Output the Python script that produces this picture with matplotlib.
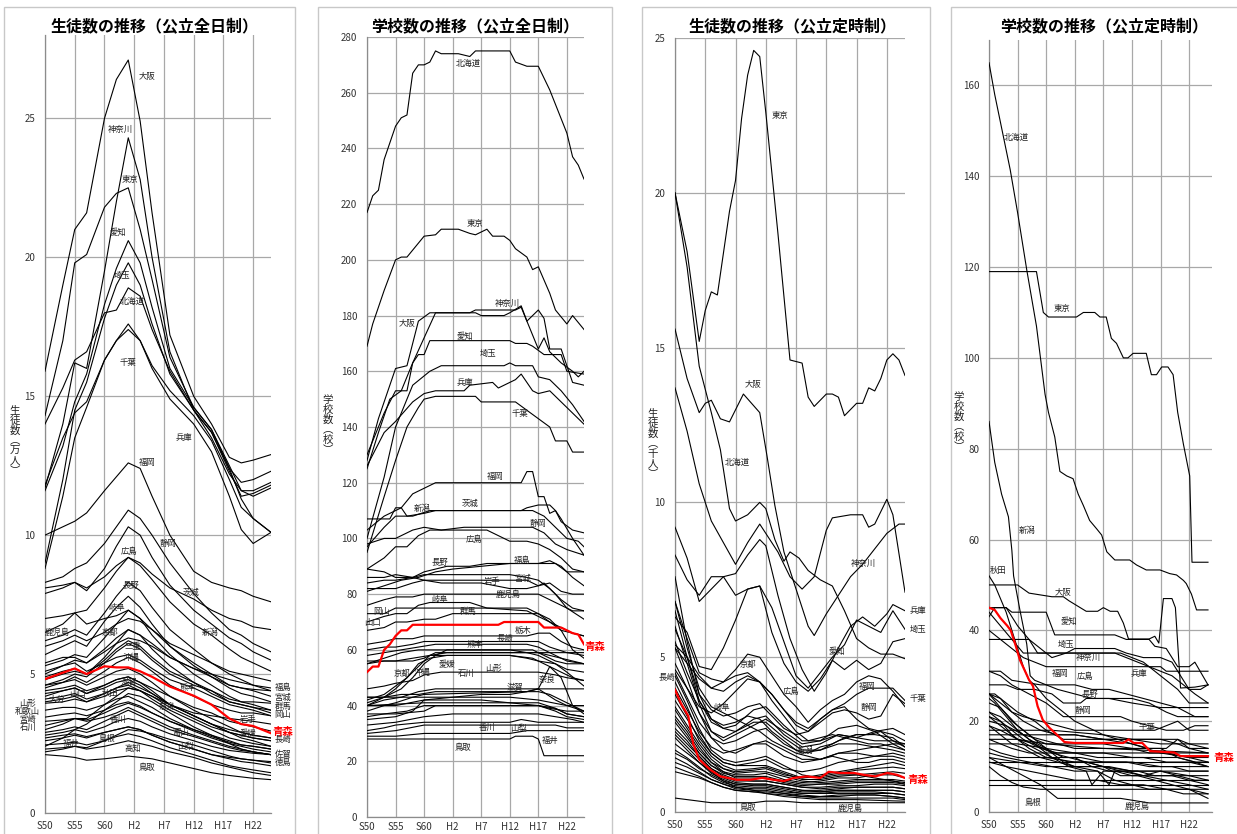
import matplotlib
matplotlib.use("Agg")
import matplotlib.pyplot as plt
from matplotlib.patches import Rectangle

plt.rcParams['font.family'] = ['Noto Sans CJK JP', 'DejaVu Sans']

W, H = 1237, 834

XTICK_YEARS = [1975, 1980, 1985, 1990, 1995, 2000, 2005, 2010]
XTICK_LABELS = ['S50', 'S55', 'S60', 'H2', 'H7', 'H12', 'H17', 'H22']

TITLES = ['生徒数の推移（公立全日制）', '学校数の推移（公立全日制）',
          '生徒数の推移（公立定時制）', '学校数の推移（公立定時制）']
YLABELS = ['生徒数︵万人︶', '学校数︵校︶', '生徒数︵千人︶', '学校数︵校︶']
RED_NAME = '青森'

# ---------------- Panel 1: 生徒数 全日制 (万人) ----------------
P1_YEARS = [1975, 1978, 1980, 1982, 1985, 1987, 1989, 1991, 1993, 1996, 2000, 2003, 2006, 2008, 2010, 2013]
P1_SERIES = {
    '大阪':   [15.9, 19.0, 21.0, 21.6, 25.0, 26.4, 27.1, 24.9, 21.6, 17.2, 15.0, 14.0, 12.8, 12.6, 12.7, 12.9],
    '東京':   [14.3, 17.0, 19.8, 20.1, 21.8, 22.3, 22.5, 21.0, 19.2, 16.4, 14.6, 13.8, 12.4, 11.9, 12.0, 12.3],
    '神奈川': [11.7, 14.0, 16.2, 16.0, 19.5, 22.0, 24.3, 22.8, 20.0, 16.6, 14.5, 13.5, 12.2, 11.6, 11.6, 11.9],
    '愛知':   [11.6, 13.2, 14.8, 15.8, 18.3, 19.6, 20.6, 19.8, 18.2, 16.0, 14.6, 13.8, 12.5, 11.6, 11.4, 11.7],
    '埼玉':   [9.0, 12.0, 14.5, 15.5, 17.8, 19.0, 19.8, 19.0, 17.6, 15.8, 14.5, 13.7, 12.3, 11.4, 11.5, 11.8],
    '北海道': [14.0, 15.3, 16.3, 16.6, 18.0, 18.1, 18.9, 18.6, 17.4, 15.9, 14.5, 13.7, 12.4, 11.3, 10.6, 10.1],
    '千葉':   [8.8, 11.4, 13.5, 14.6, 16.3, 17.0, 17.6, 17.0, 16.0, 14.9, 14.0, 13.0, 11.4, 10.2, 9.7, 10.1],
    '兵庫':   [11.8, 13.5, 14.4, 14.8, 16.3, 17.0, 17.4, 17.0, 16.1, 15.2, 14.3, 13.4, 12.0, 11.0, 10.6, 10.1],
    '福岡':   [10.0, 10.3, 10.5, 10.8, 11.6, 12.1, 12.6, 12.4, 11.4, 10.0, 8.7, 8.3, 8.1, 8.0, 7.8, 7.6],
    '静岡':   [8.3, 8.5, 8.8, 9.0, 9.7, 10.3, 10.9, 10.6, 10.0, 9.0, 7.9, 7.2, 6.6, 6.4, 6.1, 5.8],
    '広島':   [7.9, 8.1, 8.3, 8.0, 8.8, 9.6, 10.3, 10.0, 9.2, 8.2, 7.3, 6.8, 6.3, 6.1, 5.8, 5.5],
    '茨城':   [6.5, 6.8, 7.2, 7.3, 8.1, 8.7, 9.2, 9.0, 8.6, 8.1, 7.7, 7.3, 7.0, 6.9, 6.7, 6.6],
    '長野':   [6.2, 6.4, 6.6, 6.4, 7.2, 7.8, 8.3, 8.0, 7.4, 6.6, 5.9, 5.4, 5.0, 4.8, 4.6, 4.4],
    '新潟':   [8.1, 8.2, 8.3, 8.1, 8.5, 8.9, 9.2, 8.9, 8.4, 7.6, 6.8, 6.4, 5.9, 5.6, 5.4, 5.1],
    '岐阜':   [5.7, 6.0, 6.2, 6.0, 6.9, 7.4, 7.8, 7.4, 6.8, 6.0, 5.3, 4.9, 4.5, 4.3, 4.2, 4.0],
    '鹿児島': [7.0, 7.1, 7.2, 6.8, 7.0, 7.1, 7.3, 7.0, 6.6, 6.0, 5.4, 5.0, 4.6, 4.5, 4.4, 4.2],
    '京都':   [5.3, 5.5, 5.7, 5.6, 6.3, 6.8, 7.3, 7.0, 6.4, 5.7, 5.0, 4.6, 4.2, 4.0, 3.9, 3.7],
    '三重':   [4.9, 5.1, 5.2, 5.0, 5.6, 6.1, 6.6, 6.4, 5.9, 5.3, 4.7, 4.4, 4.0, 3.9, 3.8, 3.6],
    '沖縄':   [5.4, 5.6, 5.6, 5.4, 5.8, 6.1, 6.3, 6.2, 6.0, 5.6, 5.2, 5.0, 4.8, 4.7, 4.6, 4.5],
    '福島':   [6.0, 6.2, 6.4, 6.2, 6.5, 6.8, 7.0, 6.9, 6.6, 6.1, 5.7, 5.4, 5.1, 5.0, 4.9, 4.75],
    '宮城':   [5.0, 5.3, 5.5, 5.4, 5.9, 6.3, 6.6, 6.4, 6.1, 5.6, 5.2, 4.9, 4.6, 4.5, 4.45, 4.4],
    '群馬':   [4.6, 4.8, 5.0, 4.9, 5.4, 5.8, 6.1, 5.9, 5.5, 5.0, 4.6, 4.4, 4.1, 4.0, 4.0, 3.95],
    '岡山':   [4.5, 4.7, 4.9, 4.7, 5.1, 5.4, 5.6, 5.4, 5.1, 4.6, 4.2, 3.9, 3.7, 3.6, 3.6, 3.5],
    '熊本':   [5.1, 5.3, 5.4, 5.1, 5.4, 5.6, 5.7, 5.5, 5.2, 4.8, 4.5, 4.2, 3.9, 3.8, 3.7, 3.5],
    '滋賀':   [3.0, 3.2, 3.4, 3.4, 3.9, 4.2, 4.5, 4.4, 4.2, 3.9, 3.6, 3.5, 3.4, 3.35, 3.3, 3.2],
    '山口':   [4.2, 4.4, 4.5, 4.3, 4.5, 4.7, 4.8, 4.6, 4.3, 3.9, 3.5, 3.2, 2.9, 2.8, 2.7, 2.6],
    '秋田':   [4.4, 4.5, 4.6, 4.4, 4.6, 4.8, 4.9, 4.7, 4.4, 3.9, 3.5, 3.2, 2.9, 2.7, 2.6, 2.4],
    '大分':   [4.1, 4.2, 4.3, 4.1, 4.3, 4.5, 4.6, 4.4, 4.2, 3.8, 3.4, 3.1, 2.9, 2.8, 2.7, 2.6],
    '山形':   [3.95, 4.0, 4.1, 4.0, 4.2, 4.4, 4.5, 4.4, 4.1, 3.7, 3.3, 3.0, 2.7, 2.6, 2.5, 2.4],
    '和歌山': [3.7, 3.8, 3.8, 3.7, 3.9, 4.1, 4.2, 4.0, 3.8, 3.4, 3.0, 2.75, 2.55, 2.45, 2.4, 2.3],
    '宮崎':   [3.45, 3.55, 3.6, 3.5, 3.7, 3.9, 4.0, 3.85, 3.6, 3.3, 2.95, 2.7, 2.5, 2.4, 2.3, 2.2],
    '石川':   [3.15, 3.3, 3.4, 3.35, 3.6, 3.8, 3.95, 3.8, 3.6, 3.3, 3.0, 2.8, 2.6, 2.45, 2.4, 2.3],
    '奈良':   [2.4, 2.7, 3.0, 3.2, 3.7, 4.0, 4.3, 4.2, 4.0, 3.6, 3.1, 2.8, 2.5, 2.3, 2.2, 2.1],
    '岩手':   [4.3, 4.4, 4.5, 4.3, 4.6, 4.8, 4.9, 4.7, 4.5, 4.2, 3.8, 3.6, 3.3, 3.2, 3.1, 2.95],
    '香川':   [2.9, 3.0, 3.1, 3.0, 3.3, 3.5, 3.7, 3.5, 3.3, 3.0, 2.75, 2.55, 2.35, 2.25, 2.2, 2.1],
    '富山':   [3.3, 3.35, 3.4, 3.3, 3.45, 3.6, 3.8, 3.6, 3.4, 3.1, 2.8, 2.6, 2.4, 2.3, 2.2, 2.1],
    '愛媛':   [4.0, 4.1, 4.2, 4.0, 4.3, 4.5, 4.7, 4.5, 4.3, 3.9, 3.5, 3.2, 3.0, 2.9, 2.8, 2.7],
    '長崎':   [4.6, 4.7, 4.8, 4.6, 4.9, 5.1, 5.2, 5.0, 4.7, 4.2, 3.7, 3.4, 3.1, 2.9, 2.8, 2.7],
    '佐賀':   [2.8, 2.9, 3.0, 2.9, 3.1, 3.3, 3.4, 3.3, 3.1, 2.85, 2.6, 2.4, 2.25, 2.2, 2.15, 2.1],
    '徳島':   [2.6, 2.7, 2.8, 2.7, 2.9, 3.0, 3.1, 3.0, 2.8, 2.55, 2.3, 2.1, 2.0, 1.95, 1.9, 1.85],
    '福井':   [2.7, 2.8, 2.85, 2.75, 2.9, 3.0, 3.1, 3.0, 2.8, 2.55, 2.3, 2.1, 1.95, 1.85, 1.8, 1.7],
    '島根':   [2.45, 2.5, 2.55, 2.45, 2.6, 2.75, 2.85, 2.75, 2.6, 2.35, 2.1, 1.9, 1.7, 1.62, 1.55, 1.45],
    '山梨':   [2.2, 2.3, 2.4, 2.35, 2.6, 2.8, 3.0, 2.95, 2.85, 2.65, 2.45, 2.25, 2.05, 1.95, 1.9, 1.8],
    '高知':   [2.3, 2.35, 2.4, 2.3, 2.4, 2.5, 2.6, 2.5, 2.4, 2.2, 2.0, 1.8, 1.65, 1.55, 1.45, 1.35],
    '鳥取':   [2.1, 2.05, 2.0, 1.9, 1.95, 2.0, 2.05, 2.0, 1.95, 1.8, 1.6, 1.45, 1.35, 1.3, 1.25, 1.2],
    '栃木':   [4.8, 5.0, 5.1, 5.0, 5.5, 5.9, 6.2, 6.0, 5.6, 5.1, 4.7, 4.3, 4.0, 3.9, 3.8, 3.7],
    '青森':   [4.82, 5.05, 5.2, 5.0, 5.28, 5.24, 5.24, 5.1, 4.9, 4.55, 4.22, 3.9, 3.4, 3.2, 3.13, 2.87],
}
P1_LABELS = [
    ('大阪', 1992.2, 26.5), ('神奈川', 1987.6, 24.6), ('東京', 1989.3, 22.8), ('愛知', 1987.3, 20.9),
    ('埼玉', 1988.0, 19.35), ('北海道', 1989.7, 18.4), ('千葉', 1989.0, 16.2), ('兵庫', 1998.3, 13.5),
    ('福岡', 1992.2, 12.6), ('静岡', 1995.6, 9.7), ('広島', 1989.2, 9.4), ('長野', 1989.5, 8.2),
    ('茨城', 1999.6, 7.95), ('岐阜', 1987.1, 7.4), ('鹿児島', 1977.0, 6.5), ('京都', 1986.0, 6.5),
    ('新潟', 2002.8, 6.5), ('三重', 1989.8, 6.0), ('沖縄', 1989.5, 5.6), ('滋賀', 1989.2, 4.7),
    ('熊本', 1999.0, 4.5), ('山口', 1980.4, 4.3), ('秋田', 1986.0, 4.3), ('大分', 1977.0, 4.1),
    ('山形', 1972.1, 3.96), ('和歌山', 1972.1, 3.67), ('宮崎', 1972.1, 3.38), ('石川', 1972.1, 3.09),
    ('奈良', 1995.6, 3.85), ('岩手', 2009.1, 3.35), ('香川', 1987.3, 3.38), ('富山', 1997.8, 2.9),
    ('愛媛', 2009.1, 2.88), ('福井', 1979.4, 2.5), ('島根', 1985.3, 2.7), ('山梨', 1998.6, 2.4),
    ('高知', 1989.8, 2.34), ('鳥取', 1992.2, 1.62),
    ('福島', 2015.0, 4.5), ('宮城', 2015.0, 4.17), ('群馬', 2015.0, 3.85), ('岡山', 2015.0, 3.56),
    ('長崎', 2015.0, 2.63), ('佐賀', 2015.0, 2.12), ('徳島', 2015.0, 1.83),
]
P1_RED_LABEL = (2015.0, 2.91)

# ---------------- Panel 2: 学校数 全日制 (校) ----------------
P2_SERIES = {
    '北海道': [(1975, 217), (1976, 223), (1977, 225), (1978, 236), (1980, 248), (1981, 251), (1982, 252), (1983, 267), (1984, 270), (1985, 270), (1986, 271), (1987, 275), (1988, 274), (1991, 274), (1993, 273), (1994, 275), (2000, 275), (2001, 271), (2003, 269.5), (2005, 269.5), (2007, 261), (2010, 245.5), (2011, 237), (2012, 234), (2013, 229)],
    '東京': [(1975, 169), (1976, 177), (1978, 189), (1980, 200), (1981, 201), (1982, 201), (1984, 206), (1985, 208.5), (1987, 209), (1988, 211), (1991, 211), (1993, 209.5), (1994, 209), (1996, 211), (1997, 208.5), (1999, 208.5), (2000, 207), (2001, 204), (2003, 201), (2004, 196.5), (2005, 197.5), (2007, 188), (2008, 182), (2010, 177), (2011, 180), (2013, 175)],
    '大阪': [(1975, 128), (1977, 143), (1979, 155), (1980, 161), (1982, 162), (1983, 170), (1984, 178), (1986, 181), (1994, 181), (1995, 180), (1999, 180), (2000, 181), (2002, 183.5), (2003, 178), (2005, 168), (2006, 172), (2007, 167), (2009, 163), (2011, 160), (2012, 158), (2013, 160)],
    '神奈川': [(1975, 125), (1977, 138), (1979, 150), (1981, 153), (1983, 163), (1985, 172), (1987, 181), (1993, 181), (1994, 182), (2001, 182), (2002, 183), (2003, 178), (2004, 180), (2005, 182), (2006, 179), (2007, 168), (2009, 168), (2011, 156), (2013, 155)],
    '愛知': [(1975, 130), (1978, 145), (1980, 153), (1982, 153), (1983, 163), (1984, 166), (1985, 166), (1986, 171), (2000, 171), (2001, 170), (2003, 170), (2004, 169), (2006, 166), (2009, 166), (2010, 160), (2013, 159)],
    '埼玉': [(1975, 100), (1978, 122), (1980, 140), (1983, 155), (1986, 160), (1988, 162), (1999, 162), (2000, 163), (2001, 162), (2004, 162), (2005, 158), (2007, 157), (2009, 153), (2011, 148), (2013, 142)],
    '兵庫': [(1975, 126), (1978, 138), (1980, 142), (1983, 149), (1985, 152), (1987, 153), (1992, 153), (1993, 155), (1997, 156), (1998, 154), (2001, 157), (2002, 159), (2004, 153), (2005, 152), (2007, 153), (2010, 147), (2013, 141)],
    '千葉': [(1975, 95), (1978, 115), (1980, 128), (1982, 140), (1984, 147), (1985, 150), (1987, 151), (1994, 151), (1995, 149), (2001, 149), (2003, 146), (2005, 143), (2007, 140), (2008, 135), (2010, 135), (2011, 131), (2013, 131)],
    '福岡': [(1975, 103), (1978, 108), (1981, 111), (1983, 116), (1985, 118), (1987, 120), (2002, 120), (2003, 124), (2004, 124), (2005, 115), (2006, 115), (2007, 109), (2008, 110), (2009, 107), (2011, 100), (2013, 94)],
    '茨城': [(1975, 97), (1978, 104), (1980, 108), (1983, 108), (1986, 110), (2002, 110), (2003, 111), (2005, 112), (2007, 112), (2008, 110), (2009, 106), (2011, 103), (2013, 102)],
    '新潟': [(1975, 107), (1979, 107), (1980, 111), (1981, 111), (1982, 108), (1985, 109), (1987, 110), (2004, 110), (2006, 108), (2008, 104), (2010, 100), (2012, 99), (2013, 97)],
    '静岡': [(1975, 98), (1978, 100), (1980, 100), (1983, 103), (1985, 104), (1988, 103), (1992, 104), (2004, 104), (2006, 102), (2008, 98), (2010, 96), (2013, 94)],
    '広島': [(1975, 89), (1978, 93), (1980, 97), (1982, 97), (1984, 101), (1986, 103), (1996, 103), (1998, 101), (2000, 99), (2003, 99), (2005, 98), (2007, 96), (2009, 93), (2011, 89), (2013, 88)],
    '長野': [(1975, 84), (1978, 85), (1980, 85), (1983, 86), (1985, 88), (1987, 89), (1989, 90), (1993, 90), (1996, 91), (2008, 91), (2010, 88), (2013, 88)],
    '福島': [(1975, 81), (1978, 83), (1981, 85), (1984, 86), (1987, 88), (1990, 89), (1995, 90), (2000, 91), (2005, 91), (2007, 92), (2009, 90), (2011, 86), (2013, 83)],
    '岩手': [(1975, 82), (1980, 82), (1983, 84), (1985, 85), (2003, 85), (2005, 83), (2007, 84), (2009, 81), (2011, 80), (2013, 80)],
    '宮城': [(1975, 86), (1978, 86), (1980, 87), (1983, 86), (1985, 87), (2000, 87), (2003, 86), (2005, 85), (2007, 82), (2009, 78), (2011, 75), (2013, 74)],
    '鹿児島': [(1975, 89), (1978, 88), (1980, 86), (1983, 86), (1985, 85), (1988, 84), (1995, 84), (2000, 82), (2003, 82), (2005, 83), (2006, 84), (2008, 80), (2010, 75), (2013, 71)],
    '岐阜': [(1975, 76), (1978, 78), (1980, 79), (1983, 79), (1985, 80), (2005, 80), (2007, 78), (2009, 76), (2011, 74), (2013, 74)],
    '群馬': [(1975, 70), (1978, 72), (1980, 73), (1982, 73), (1984, 76), (1986, 77), (1993, 77), (1996, 75), (2003, 74), (2005, 72), (2007, 70), (2009, 68), (2011, 66), (2013, 65)],
    '岡山': [(1975, 73), (1978, 73), (1980, 75), (2003, 75), (2005, 73), (2007, 70), (2009, 67), (2011, 66), (2013, 65)],
    '山口': [(1975, 67), (1978, 68), (1980, 70), (1982, 70), (1985, 71), (1987, 71), (1990, 73), (2005, 73), (2007, 71), (2009, 67), (2011, 60), (2013, 57)],
    '栃木': [(1975, 62), (1978, 63), (1980, 64), (1983, 64), (1985, 65), (2003, 65), (2005, 66), (2007, 66), (2009, 63), (2011, 61), (2013, 60)],
    '長崎': [(1975, 60), (1978, 61), (1980, 61), (1983, 62), (1985, 63), (2005, 63), (2007, 61), (2010, 59), (2013, 58)],
    '熊本': [(1975, 58), (1978, 59), (1981, 60), (1984, 61), (1987, 62), (2003, 62), (2005, 61), (2008, 58), (2010, 56), (2013, 55)],
    '愛媛': [(1975, 42), (1978, 44), (1980, 47), (1982, 50), (1984, 55), (1986, 57), (1989, 58), (2000, 58), (2003, 57), (2005, 56), (2008, 55), (2010, 53), (2013, 52)],
    '石川': [(1975, 46), (1978, 47), (1980, 48), (1983, 49), (1985, 51), (1988, 52), (2005, 52), (2008, 51), (2010, 50), (2013, 49)],
    '山形': [(1975, 55), (1978, 56), (1980, 56), (1983, 57), (1986, 58), (2000, 58), (2004, 57), (2006, 55), (2009, 52), (2011, 50), (2013, 49)],
    '京都': [(1975, 40), (1977, 42), (1979, 44), (1981, 46), (1983, 50), (1985, 55), (1987, 58), (1989, 60), (2000, 60), (2003, 59), (2005, 58), (2008, 55), (2010, 52), (2013, 47)],
    '沖縄': [(1975, 41), (1978, 43), (1980, 46), (1982, 50), (1984, 54), (1986, 58), (1989, 59), (2013, 59)],
    '滋賀': [(1975, 40), (1980, 40), (1985, 42), (1990, 43), (1995, 44), (2000, 44), (2003, 45), (2005, 46), (2013, 46)],
    '奈良': [(1975, 38), (1978, 40), (1980, 41), (1983, 43), (1985, 44), (2003, 45), (2005, 46), (2007, 54), (2009, 50), (2011, 40), (2013, 37)],
    '香川': [(1975, 30), (1980, 31), (1985, 33), (2008, 33), (2010, 32), (2013, 32)],
    '山梨': [(1975, 31), (1978, 32), (1980, 33), (1985, 34), (2000, 34), (2002, 35), (2005, 34), (2013, 34)],
    '福井': [(1975, 29), (1980, 29), (1985, 30), (2000, 30), (2003, 31), (2013, 31)],
    '鳥取': [(1975, 28), (2000, 28), (2001, 29), (2004, 29), (2005, 28), (2006, 22), (2013, 22)],
    '和歌山': [(1975, 40), (1985, 41), (2005, 41), (2008, 39), (2010, 37), (2013, 36)],
    '徳島': [(1975, 36), (1978, 37), (1982, 38), (1985, 40), (2005, 40), (2008, 38), (2010, 36), (2013, 35)],
    '高知': [(1975, 35), (1980, 36), (1983, 38), (1985, 42), (1995, 42), (2000, 41), (2005, 40), (2008, 39), (2010, 37), (2013, 36)],
    '島根': [(1975, 37), (1980, 37), (1985, 38), (1987, 40), (2005, 40), (2007, 39), (2010, 38), (2013, 38)],
    '佐賀': [(1975, 33), (1980, 34), (1985, 36), (1990, 37), (2005, 37), (2008, 36), (2011, 35), (2013, 34)],
    '宮崎': [(1975, 40), (1978, 42), (1981, 43), (1984, 45), (1987, 46), (2005, 46), (2008, 42), (2010, 40), (2013, 38)],
    '大分': [(1975, 43), (1978, 43), (1981, 44), (1984, 44), (1987, 45), (2005, 45), (2007, 44), (2009, 42), (2011, 40), (2013, 38)],
    '富山': [(1975, 43), (2000, 43), (2005, 42), (2010, 40), (2013, 40)],
    '秋田': [(1975, 55), (1978, 57), (1981, 59), (1984, 60), (2004, 60), (2006, 58), (2008, 56), (2010, 55), (2013, 55)],
    '三重': [(1975, 56), (1983, 56), (1985, 57), (1987, 59), (2005, 59), (2007, 58), (2009, 57), (2013, 55)],
    '青森': [(1975, 52), (1976, 54), (1977, 54), (1978, 60), (1979, 62), (1980, 65), (1981, 67), (1982, 67), (1983, 69), (1998, 69), (1999, 70), (2005, 70), (2006, 68), (2009, 68), (2010, 67), (2011, 66), (2012, 65.5), (2013, 62)],
}
P2_LABELS = [
    ('北海道', 1992.7, 270.6), ('東京', 1993.9, 212.9), ('神奈川', 1999.5, 184.5), ('大阪', 1982.0, 177.3),
    ('愛知', 1992.1, 172.6), ('埼玉', 1996.2, 166.5), ('兵庫', 1992.1, 156.1), ('千葉', 2001.7, 145.0),
    ('福岡', 1997.4, 122.4), ('茨城', 1993.0, 112.7), ('新潟', 1984.6, 110.6), ('静岡', 2004.9, 105.5),
    ('広島', 1993.7, 99.8), ('長野', 1987.8, 91.5), ('福島', 2002.1, 92.2), ('岩手', 1997.0, 84.4),
    ('宮城', 2002.3, 85.8), ('鹿児島', 1999.7, 80.0), ('岐阜', 1987.8, 78.2), ('群馬', 1992.7, 73.9),
    ('岡山', 1977.6, 73.6), ('山口', 1976.0, 70.0), ('栃木', 2002.3, 66.8), ('長崎', 1999.1, 64.2),
    ('熊本', 1993.9, 62.1), ('愛媛', 1989.0, 54.6), ('京都', 1981.1, 51.7), ('沖縄', 1984.6, 51.7),
    ('石川', 1992.3, 51.7), ('山形', 1997.2, 53.5), ('滋賀', 2000.9, 46.7), ('奈良', 2006.5, 49.2),
    ('香川', 1996.0, 32.3), ('山梨', 2001.6, 31.9), ('福井', 2007.0, 27.6), ('鳥取', 1991.8, 25.1),
]
P2_RED_LABEL = (2014.9, 61.0)

# ---------------- Panel 3: 生徒数 定時制 (千人) ----------------
P3_MAIN = {
    '東京': [(1975, 20.0), (1977, 18.1), (1979, 15.2), (1980, 16.2), (1981, 16.8), (1982, 16.7), (1984, 19.4), (1985, 20.4), (1986, 22.4), (1987, 23.8), (1988, 24.6), (1989, 24.4), (1990, 22.6), (1992, 18.7), (1994, 14.6), (1996, 14.5), (1997, 13.4), (1998, 13.1), (2000, 13.5), (2001, 13.5), (2002, 13.4), (2003, 12.8), (2004, 13.0), (2005, 13.2), (2006, 13.2), (2007, 13.7), (2008, 13.6), (2009, 14.0), (2010, 14.6), (2011, 14.8), (2012, 14.6), (2013, 14.1)],
    '大阪': [(1975, 15.6), (1977, 14.0), (1979, 12.9), (1980, 13.2), (1981, 13.3), (1982.5, 12.7), (1984, 12.6), (1986.3, 13.5), (1989, 12.9), (1990.2, 11.5), (1991.5, 9.9), (1993, 8.4), (1995, 7.2), (1997, 6.0), (1998, 5.7), (2000, 6.4), (2002, 7.0), (2004, 7.6), (2006, 8.0), (2008, 8.5), (2010, 9.0), (2012, 9.3), (2013, 9.3)],
    '北海道': [(1975, 20.0), (1977, 17.6), (1979, 14.4), (1981, 12.9), (1982.5, 11.7), (1984, 9.8), (1985, 9.4), (1987, 9.6), (1989, 10.0), (1990, 9.8), (1991.5, 8.8), (1993, 8.1), (1994, 8.4), (1995.5, 8.2), (1997, 7.8), (1999, 7.5), (2001, 7.3), (2003, 6.5), (2005, 5.6), (2007, 5.3), (2009, 5.1), (2011, 5.1), (2013, 4.95)],
    '神奈川': [(1975, 13.7), (1977, 12.3), (1979, 10.6), (1981, 9.4), (1983, 8.7), (1985, 8.0), (1987, 8.7), (1989, 9.3), (1990, 9.0), (1992, 8.4), (1994, 7.6), (1996, 7.2), (1998, 7.6), (2000, 9.1), (2001, 9.5), (2004, 9.6), (2006, 9.6), (2007, 9.2), (2008, 9.3), (2010, 10.1), (2011, 9.6), (2013, 7.1)],
    '兵庫': [(1975, 9.2), (1977, 8.2), (1979, 6.8), (1981, 7.2), (1983, 7.6), (1985, 7.7), (1987, 8.3), (1989, 8.8), (1990, 8.6), (1992, 7.0), (1994, 5.6), (1996, 4.6), (1998, 3.9), (2000, 4.5), (2002, 5.3), (2004, 6.0), (2006, 6.3), (2008, 6.0), (2010, 6.4), (2011, 6.7), (2013, 6.5)],
    '埼玉': [(1975, 8.3), (1977, 7.5), (1979, 7.0), (1981, 7.6), (1983, 7.6), (1985, 7.0), (1987, 7.2), (1989, 7.3), (1991, 6.6), (1993, 5.5), (1995, 4.4), (1997, 4.0), (1999, 4.5), (2001, 5.0), (2003, 5.4), (2005, 6.2), (2007, 6.0), (2009, 5.8), (2011, 6.5), (2013, 5.9)],
    '愛知': [(1975, 6.3), (1977, 5.8), (1979, 4.7), (1981, 4.6), (1983, 5.3), (1985, 6.2), (1987, 7.2), (1989, 7.3), (1991, 5.8), (1993, 4.8), (1995, 4.2), (1997, 3.9), (1999, 4.3), (2001, 4.9), (2003, 4.6), (2005, 4.9), (2007, 4.6), (2009, 4.8), (2011, 5.5), (2013, 5.6)],
    '千葉': [(1975, 6.8), (1977, 5.6), (1979, 4.5), (1981, 4.3), (1983, 4.2), (1985, 4.6), (1987, 5.1), (1989, 5.0), (1991, 4.4), (1993, 3.8), (1995, 3.4), (1997, 2.9), (1999, 3.3), (2001, 3.6), (2003, 3.8), (2005, 4.2), (2007, 4.4), (2009, 4.3), (2011, 3.9), (2013, 3.4)],
    '福岡': [(1975, 5.3), (1977, 4.8), (1979, 4.3), (1981, 4.0), (1983, 3.9), (1985, 4.2), (1987, 4.4), (1989, 4.2), (1991, 3.8), (1993, 3.3), (1995, 2.8), (1997, 2.6), (1999, 3.0), (2001, 3.3), (2003, 3.5), (2005, 3.8), (2007, 4.0), (2009, 4.0), (2011, 4.0), (2013, 3.6)],
    '京都': [(1975, 5.4), (1977, 5.0), (1979, 4.4), (1981, 4.0), (1983, 4.2), (1985, 4.4), (1987, 4.5), (1989, 4.2), (1991, 3.6), (1993, 3.1), (1995, 2.6), (1997, 2.3), (1999, 2.4), (2001, 2.5), (2003, 2.4), (2005, 2.3), (2007, 2.2), (2009, 2.2), (2011, 2.1), (2013, 2.0)],
    '広島': [(1975, 4.6), (1977, 4.0), (1979, 3.4), (1981, 3.2), (1983, 3.5), (1985, 3.9), (1987, 4.3), (1989, 4.2), (1991, 3.8), (1993, 3.3), (1995, 2.9), (1997, 2.7), (1999, 3.0), (2001, 3.3), (2003, 3.4), (2005, 3.0), (2007, 2.7), (2009, 2.6), (2011, 2.5), (2013, 2.3)],
    '静岡': [(1975, 5.9), (1977, 5.0), (1979, 3.8), (1981, 3.3), (1983, 3.1), (1985, 3.2), (1987, 3.4), (1989, 3.5), (1991, 3.1), (1993, 2.7), (1995, 2.5), (1997, 2.6), (1999, 2.9), (2001, 3.2), (2003, 3.3), (2005, 3.2), (2007, 3.0), (2009, 3.1), (2011, 3.8), (2013, 3.5)],
    '岐阜': [(1975, 6.8), (1977, 5.3), (1979, 4.0), (1981, 3.4), (1983, 3.2), (1985, 3.0), (1987, 2.8), (1989, 2.6), (1991, 2.3), (1993, 2.1), (1995, 1.9), (1997, 1.8), (1999, 1.7), (2001, 1.8), (2003, 1.7), (2005, 1.6), (2007, 1.6), (2009, 1.7), (2011, 1.7), (2013, 1.6)],
    '新潟': [(1975, 7.6), (1977, 5.5), (1979, 3.8), (1981, 3.0), (1983, 2.8), (1985, 2.9), (1987, 3.1), (1989, 3.0), (1991, 2.6), (1993, 2.3), (1995, 2.0), (1997, 1.9), (1999, 2.1), (2001, 2.2), (2003, 2.4), (2005, 2.5), (2007, 2.5), (2009, 2.6), (2011, 2.3), (2013, 2.1)],
    '青森': [(1975, 3.95), (1976, 3.5), (1977.2, 3.1), (1978, 2.2), (1979, 1.7), (1980.8, 1.37), (1982.5, 1.15), (1985.2, 1.04), (1987.4, 1.04), (1989.4, 1.1), (1991.3, 1.04), (1993, 1.0), (1994.6, 1.1), (1996.8, 1.15), (1999, 1.1), (2000.4, 1.3), (2002.3, 1.26), (2004.6, 1.26), (2006.2, 1.2), (2008.1, 1.15), (2010.1, 1.26), (2011.7, 1.2), (2013, 1.1)],
}
P3_YEARS = [1975, 1977, 1979, 1981, 1983, 1985, 1988, 1990, 1993, 1996, 1999, 2002, 2005, 2008, 2011, 2013]
P3_SMALL = {
    '長崎':   [4.4, 3.6, 2.7, 2.0, 1.7, 1.6, 1.7, 1.8, 1.5, 1.2, 1.1, 1.2, 1.2, 1.1, 1.0, 0.9],
    '宮城':   [5.3, 4.3, 3.2, 2.4, 2.0, 1.9, 2.2, 2.3, 2.0, 1.7, 1.7, 1.9, 2.0, 2.1, 2.2, 2.2],
    '福島':   [6.0, 4.8, 3.5, 2.6, 2.3, 2.5, 2.8, 3.0, 2.6, 2.2, 2.3, 2.5, 2.4, 2.6, 2.7, 2.5],
    '茨城':   [3.6, 3.0, 2.4, 1.9, 1.6, 1.5, 1.6, 1.7, 1.4, 1.3, 1.4, 1.6, 1.7, 1.8, 1.9, 1.8],
    '栃木':   [3.4, 2.8, 2.2, 1.7, 1.4, 1.3, 1.35, 1.4, 1.2, 1.1, 1.2, 1.3, 1.4, 1.5, 1.6, 1.5],
    '群馬':   [3.1, 2.6, 2.0, 1.6, 1.3, 1.2, 1.2, 1.25, 1.05, 0.95, 1.0, 1.1, 1.1, 1.2, 1.2, 1.1],
    '長野':   [2.9, 2.4, 1.9, 1.5, 1.3, 1.1, 1.1, 1.1, 0.95, 0.85, 0.9, 0.95, 1.0, 1.0, 1.0, 0.95],
    '三重':   [2.6, 2.2, 1.8, 1.4, 1.2, 1.05, 1.0, 1.0, 0.9, 0.8, 0.8, 0.85, 0.85, 0.9, 0.9, 0.85],
    '滋賀':   [2.2, 1.9, 1.6, 1.3, 1.1, 0.95, 0.9, 0.9, 0.8, 0.7, 0.7, 0.75, 0.8, 0.8, 0.8, 0.75],
    '奈良':   [1.9, 1.7, 1.4, 1.2, 1.0, 0.9, 0.85, 0.85, 0.75, 0.65, 0.65, 0.7, 0.7, 0.7, 0.7, 0.65],
    '和歌山': [1.6, 1.45, 1.25, 1.05, 0.9, 0.8, 0.75, 0.75, 0.65, 0.6, 0.6, 0.65, 0.65, 0.65, 0.6, 0.55],
    '島根':   [1.3, 1.2, 1.1, 0.95, 0.8, 0.7, 0.65, 0.65, 0.6, 0.5, 0.5, 0.55, 0.55, 0.55, 0.5, 0.45],
    '岡山':   [4.2, 3.4, 2.5, 1.9, 1.6, 1.5, 1.5, 1.5, 1.3, 1.1, 1.15, 1.25, 1.35, 1.4, 1.45, 1.4],
    '山口':   [3.8, 3.1, 2.3, 1.8, 1.5, 1.35, 1.4, 1.45, 1.25, 1.05, 1.05, 1.15, 1.2, 1.25, 1.3, 1.25],
    '徳島':   [3.3, 2.7, 2.1, 1.6, 1.4, 1.25, 1.3, 1.3, 1.15, 1.0, 0.95, 1.0, 1.05, 1.05, 1.05, 1.0],
    '香川':   [3.0, 2.5, 1.9, 1.5, 1.25, 1.15, 1.15, 1.15, 1.0, 0.9, 0.9, 0.9, 0.95, 0.95, 0.95, 0.9],
    '愛媛':   [2.7, 2.3, 1.8, 1.4, 1.15, 1.0, 1.0, 1.0, 0.9, 0.8, 0.75, 0.8, 0.8, 0.8, 0.8, 0.75],
    '高知':   [2.4, 2.0, 1.6, 1.25, 1.05, 0.9, 0.9, 0.9, 0.8, 0.7, 0.65, 0.7, 0.7, 0.7, 0.7, 0.65],
    '佐賀':   [2.0, 1.75, 1.45, 1.15, 0.95, 0.85, 0.8, 0.8, 0.7, 0.6, 0.6, 0.6, 0.6, 0.6, 0.6, 0.55],
    '熊本':   [1.75, 1.55, 1.3, 1.05, 0.9, 0.75, 0.7, 0.7, 0.6, 0.55, 0.5, 0.5, 0.55, 0.55, 0.5, 0.45],
    '大分':   [1.45, 1.3, 1.15, 0.95, 0.8, 0.7, 0.65, 0.6, 0.55, 0.5, 0.45, 0.45, 0.45, 0.45, 0.45, 0.4],
    '鳥取':   [0.45, 0.4, 0.35, 0.3, 0.3, 0.3, 0.3, 0.35, 0.35, 0.3, 0.3, 0.3, 0.3, 0.3, 0.3, 0.3],
    '鹿児島': [2.5, 2.1, 1.7, 1.3, 1.0, 0.8, 0.7, 0.6, 0.5, 0.45, 0.4, 0.4, 0.4, 0.38, 0.36, 0.35],
    '沖縄':   [5.5, 4.5, 3.6, 3.0, 2.7, 2.8, 3.3, 3.4, 2.8, 2.3, 2.3, 2.7, 2.8, 2.6, 2.2, 2.0],
    '岩手':   [4.8, 4.0, 3.2, 2.6, 2.4, 2.6, 3.0, 3.1, 2.5, 2.1, 2.2, 2.5, 2.4, 2.3, 2.3, 2.2],
    '秋田':   [4.5, 3.7, 2.9, 2.4, 2.2, 2.3, 2.6, 2.7, 2.2, 1.9, 2.0, 2.2, 2.2, 2.1, 2.0, 1.9],
    '山形':   [4.0, 3.3, 2.6, 2.1, 1.9, 2.0, 2.2, 2.2, 1.8, 1.6, 1.7, 1.9, 1.9, 1.8, 1.8, 1.7],
    '富山':   [6.5, 5.0, 3.6, 2.9, 2.7, 2.6, 2.9, 2.9, 2.4, 2.0, 2.0, 2.3, 2.5, 2.5, 2.4, 2.1],
}
P3_LABELS = [
    ('東京', 1992.4, 22.5), ('大阪', 1987.9, 13.8), ('北海道', 1985.3, 11.3), ('神奈川', 2006.1, 8.04),
    ('愛知', 2001.8, 5.2), ('京都', 1987.1, 4.75), ('長崎', 1973.7, 4.36), ('福岡', 2006.8, 4.04),
    ('広島', 1994.2, 3.9), ('岐阜', 1982.8, 3.39), ('静岡', 2007.0, 3.36), ('新潟', 1996.5, 2.0),
    ('鳥取', 1987.1, 0.13), ('鹿児島', 2004.0, 0.1),
    ('兵庫', 2015.2, 6.5), ('埼玉', 2015.2, 5.9), ('千葉', 2015.2, 3.65),
]
P3_RED_LABEL = (2015.1, 1.03)

# ---------------- Panel 4: 学校数 定時制 (校) ----------------
P4_SERIES = {
    '北海道': [(1975, 165), (1976, 158), (1978.7, 141.5), (1980, 132), (1981.6, 119.4), (1983.3, 107), (1984.8, 92), (1985.4, 88), (1986.5, 82.6), (1987.4, 75), (1988.6, 74), (1989.7, 73.4), (1990.6, 70), (1991.5, 67.5), (1992.6, 64.2), (1993.8, 62.4), (1994.7, 61), (1995.6, 57.3), (1997, 55.5), (1999.6, 55.5), (2000.8, 54.4), (2002.5, 53.3), (2004.9, 53.3), (2006.6, 52.5), (2007.8, 52.2), (2009, 51), (2009.5, 50.3), (2010.4, 48), (2011.3, 44.5), (2013.3, 44.5)],
    '東京': [(1975, 119), (1983.3, 119), (1984.5, 110), (1985.4, 109), (1990.3, 109), (1991.5, 110), (1993.5, 110), (1994.4, 109), (1995.5, 109), (1996.4, 104.3), (1997.3, 103.2), (1998.5, 100), (1999.3, 100), (2000.2, 101), (2002.5, 101), (2003.4, 96.3), (2004.3, 96.3), (2005.2, 98), (2006.3, 98), (2007.2, 96.3), (2008, 88), (2009, 81), (2010.1, 74), (2010.5, 55), (2013.3, 55)],
    '新潟': [(1975, 86), (1976, 77), (1977.2, 70), (1978.4, 65), (1979, 57.6), (1979.3, 52), (1980.4, 44.5), (1981.6, 37), (1982.2, 30), (1983, 29), (1985, 28), (1987, 27), (1990, 26), (1993, 25), (1996, 25), (2000, 24), (2005, 23), (2013.3, 23)],
    '秋田': [(1975, 52), (1976, 50), (1977, 47), (1978, 44), (1979, 40), (1980, 36), (1981, 32), (1982, 29), (1983, 28), (1985, 25), (1988, 22), (1990, 20), (1995, 17), (2000, 15), (2005, 13), (2010, 12), (2013.3, 11)],
    '大阪': [(1975, 50), (1980, 50), (1982, 48.2), (1986, 47.4), (1988, 47.4), (1989, 46.5), (1992, 44.2), (1994, 44.2), (1995, 45), (1996.2, 44.2), (1997.5, 44.2), (1998.5, 41.6), (1999.4, 38.1), (2003, 38.1), (2004, 38.7), (2004.7, 37.2), (2005.5, 47), (2007, 47), (2007.6, 45), (2008.5, 27.3), (2011, 27.5), (2013.3, 28)],
    '愛知': [(1975, 45), (1978, 45), (1979, 44), (1985, 44), (1986.5, 39), (1997, 39), (1999, 38), (2003, 38), (2004, 36.5), (2006, 36), (2008, 32), (2010, 32), (2011, 33), (2013.3, 28)],
    '埼玉': [(1975, 43), (1976, 45), (1978, 45), (1980, 41), (1982, 38), (1984, 36), (1986, 34), (1988.5, 35), (1990, 36), (1997, 36), (1999, 35), (2002, 34), (2005, 34), (2007, 33), (2008, 31), (2010, 27), (2012, 27), (2013.3, 28)],
    '神奈川': [(1975, 38), (1982, 38), (1983.5, 35), (1997, 35), (1999, 34), (2001, 33), (2003, 32), (2005, 31), (2007, 30), (2009, 28), (2011, 26), (2013.3, 24)],
    '福岡': [(1975, 31), (1977, 31), (1979, 29), (1984, 28), (1990, 28), (1993, 27), (1996, 27), (1999, 26), (2002, 25), (2005, 24), (2008, 23), (2011, 21), (2013.3, 21)],
    '広島': [(1975, 40), (1977, 38), (1979, 36), (1981, 34), (1983, 33), (1985, 32), (2005, 32), (2006, 31), (2013.3, 31)],
    '兵庫': [(1975, 44), (1977, 41), (1979, 38), (1981, 35), (1998, 35), (2000, 34), (2002, 33), (2004, 31), (2006, 29), (2008, 27), (2010, 24), (2013.3, 24)],
    '長野': [(1975, 28), (1978, 28), (1980, 27), (1983, 27), (1986, 26), (1988, 24), (1991, 24), (1992, 25), (2000, 25), (2003, 24), (2006, 22), (2008, 21), (2013.3, 21)],
    '静岡': [(1975, 31), (1977, 30), (1979, 28), (1982, 26), (1985, 24), (1988, 21), (1998, 21), (2000, 20), (2003, 19), (2006, 18), (2009, 18), (2011, 19), (2013.3, 19)],
    '千葉': [(1975, 26), (1977, 24), (1979, 22), (1981, 21), (1984, 20), (1987, 19), (1990, 18), (2004, 18), (2006, 19), (2008, 20), (2010, 18), (2013.3, 18)],
    '岩手': [(1975, 26), (1976, 26), (1978, 24), (1980, 22), (1983, 20), (1985, 18), (1988, 16), (2008, 16), (2010, 14), (2013.3, 13)],
    '宮城': [(1975, 26), (1977, 23), (1979, 20), (1981, 18), (1983, 16), (1986, 13), (1988, 11), (1990, 10), (1996, 10), (2000, 9), (2005, 9), (2010, 8), (2013.3, 8)],
    '山形': [(1975, 25), (1976, 24), (1978, 21), (1980, 18), (1982, 16), (1985, 14), (1988, 12), (1991, 12), (1995, 11), (1999, 11), (2003, 10), (2007, 10), (2010, 9), (2013.3, 9)],
    '福島': [(1975, 22), (1977, 20), (1979, 18), (1981, 16), (1984, 14), (1987, 13), (1990, 13), (1994, 12), (2002, 12), (2006, 11), (2010, 11), (2013.3, 10)],
    '茨城': [(1975, 21), (1977, 19), (1980, 16), (1983, 15), (1986, 13), (1989, 12), (1992, 11), (1995, 10), (1998, 9), (2001, 9), (2004, 8), (2007, 8), (2010, 7), (2013.3, 6)],
    '栃木': [(1975, 20), (1978, 19), (1981, 17), (1984, 16), (1987, 15), (1990, 14), (2003, 14), (2006, 14), (2008, 16), (2010, 15), (2013.3, 14)],
    '群馬': [(1975, 19), (1977, 18), (1980, 16), (1983, 14), (1986, 12), (1989, 10), (1992, 9), (1993, 6), (1995, 9), (1998, 9), (2002, 8), (2006, 7), (2010, 6), (2013.3, 5)],
    '富山': [(1975, 18), (1986, 18), (1995, 17), (2000, 16), (2005, 15), (2013.3, 15)],
    '石川': [(1975, 17), (1990, 17), (1995, 16), (2005, 16), (2008, 15), (2010, 14), (2013.3, 14)],
    '福井': [(1975, 16), (1980, 16), (1985, 15), (1995, 14), (2013.3, 13)],
    '山梨': [(1975, 15), (1980, 15), (1985, 14), (1990, 13), (1995, 13), (2000, 12), (2008, 12), (2011, 11), (2013.3, 11)],
    '岐阜': [(1975, 14), (1977, 13), (1980, 12), (1985, 12), (1990, 11), (2000, 11), (2005, 10), (2013.3, 10)],
    '三重': [(1975, 13), (1978, 12), (1982, 11), (1986, 10), (1990, 9), (1994, 9), (1996, 6), (1997, 9), (2000, 8), (2010, 8), (2013.3, 7)],
    '滋賀': [(1975, 12), (1980, 11), (1985, 10), (1995, 10), (2000, 9), (2013.3, 9)],
    '京都': [(1975, 11), (2013.3, 11)],
    '奈良': [(1975, 11), (1978, 10), (1982, 9), (1986, 8), (1990, 7), (1994, 7), (1998, 6), (2002, 6), (2006, 5), (2010, 5), (2013.3, 4)],
    '和歌山': [(1975, 7), (2013.3, 7)],
    '鳥取': [(1975, 6), (2013.3, 6)],
    '鹿児島': [(1975, 12), (1978, 10), (1981, 8), (1984, 6), (1986, 4), (1987, 3), (1998, 3), (2003, 2), (2013.3, 2)],
    '島根': [(1975, 10), (1977, 8), (1979, 6.5), (1981, 5.5), (1984, 5), (2013.3, 5)],
    '岡山': [(1975, 22), (1977, 21), (1980, 18), (1983, 15), (1986, 12), (1989, 11), (1992, 11), (1995, 10), (1998, 8), (2001, 8), (2004, 7), (2007, 6), (2010, 5), (2013.3, 3)],
    '山口': [(1975, 24), (1977, 23), (1980, 19), (1983, 16), (1985, 15), (1995, 15), (2000, 14), (2003, 13), (2006, 13), (2010, 12), (2013.3, 12)],
    '徳島': [(1975, 26), (1977, 25), (1979, 22), (1981, 20), (1984, 18), (1987, 17), (1990, 17), (1995, 16), (2000, 15), (2003, 14), (2005, 14), (2008, 12), (2011, 11), (2013.3, 10)],
    '香川': [(1975, 21), (1977, 20), (1979, 17), (1982, 14), (1985, 12), (1990, 12), (1993, 10), (1996, 9), (1999, 9), (2002, 8), (2005, 9), (2008, 8), (2011, 7), (2013.3, 7)],
    '愛媛': [(1975, 19), (1977, 17), (1979, 15), (1981, 14), (1984, 12), (1987, 11), (1990, 10), (1994, 9), (1997, 7), (2000, 6), (2003, 5), (2006, 5), (2009, 4), (2013.3, 4)],
    '高知': [(1975, 16), (1977, 15), (1979, 14), (1982, 13), (2013.3, 13)],
    '青森': [(1975, 45), (1976, 44.5), (1977, 42.7), (1978.2, 41), (1978.8, 40), (1979.7, 36.5), (1980.4, 33.5), (1981.2, 31.3), (1982, 29.1), (1982.7, 27.7), (1983.5, 23.3), (1984.4, 20.3), (1985.6, 18.5), (1986.8, 17.1), (1988.2, 15.4), (1990, 15.2), (1998.5, 15.2), (1999.4, 16), (2000.3, 15.2), (2001.8, 15.2), (2003.2, 13.4), (2007.4, 13.1), (2008.5, 12.3), (2013.3, 12.3)],
}
P4_LABELS = [
    ('北海道', 1979.7, 148.6), ('東京', 1987.8, 110.9), ('新潟', 1981.7, 62.0), ('秋田', 1976.6, 53.1),
    ('大阪', 1988.0, 48.3), ('愛知', 1988.9, 41.9), ('埼玉', 1988.5, 36.8), ('神奈川', 1992.4, 34.0),
    ('福岡', 1987.5, 30.4), ('広島', 1991.8, 29.8), ('兵庫', 2001.3, 30.4), ('長野', 1992.7, 25.8),
    ('静岡', 1991.5, 22.3), ('千葉', 2002.7, 18.7), ('島根', 1982.7, 2.2), ('鹿児島', 2001.0, 1.3),
]
P4_RED_LABEL = (2016.1, 11.9)

# ---------------- layout (pixel boxes) ----------------
AX_BOXES = [(45, 35, 271, 813), (367, 37, 584, 817), (675, 38, 905, 812), (989, 40, 1212, 812)]
FRAMES = [(4, 7, 295), (318, 7, 612), (642, 7, 930), (951, 7, 1245)]
TITLE_X = [155, 475, 793, 1104]
YLABEL_POS = [(15, 441), (328, 425), (653, 444), (959, 422)]
YLIMS = [(0, 28), (0, 280), (0, 25), (0, 170)]
YTICKS = [list(range(0, 26, 5)), list(range(0, 281, 20)), list(range(0, 26, 5)), list(range(0, 161, 20))]
XLIMS = [(1975, 2013), (1975, 2013), (1975, 2013), (1975, 2014)]
XPADS = [6, 3.5, 6, 6]

fig = plt.figure(figsize=(W / 100, H / 100), dpi=100)

for (l, t, r) in FRAMES:
    fig.add_artist(Rectangle((l / W, -0.02), (r - l) / W, 1 - t / H + 0.02,
                             transform=fig.transFigure, fill=False,
                             edgecolor='#c8c8c8', lw=1.0))

axes = []
for i, (l, t, r, b) in enumerate(AX_BOXES):
    ax = fig.add_axes([l / W, 1 - b / H, (r - l) / W, (b - t) / H])
    ax.set_xlim(*XLIMS[i])
    ax.set_ylim(*YLIMS[i])
    ax.set_xticks(XTICK_YEARS)
    ax.set_xticklabels(XTICK_LABELS)
    ax.set_yticks(YTICKS[i])
    ax.grid(True, color='#a8a8a8', lw=0.9)
    ax.set_axisbelow(True)
    for s in ['top', 'right']:
        ax.spines[s].set_visible(False)
    for s in ['left', 'bottom']:
        ax.spines[s].set_color('#8c8c8c')
        ax.spines[s].set_linewidth(0.9)
    ax.tick_params(axis='y', length=0, labelsize=7, colors='#333333', pad=7)
    ax.tick_params(axis='x', length=0, labelsize=7, colors='#333333', pad=XPADS[i])
    ax.patch.set_alpha(0)
    axes.append(ax)
    fig.text(TITLE_X[i] / W, 1 - 26 / H, TITLES[i], ha='center', va='center',
             fontsize=11.5, fontweight='bold', color='black')
    yx, yy = YLABEL_POS[i]
    fig.text(yx / W, 1 - yy / H, '\n'.join(YLABELS[i]), ha='center', va='center',
             fontsize=7.5, linespacing=1.0, color='#222222')

LW = 0.8
LABEL_FS = 6


def draw_labels(ax, labels, red_pos):
    for txt, x, y in labels:
        ax.text(x, y, txt, fontsize=LABEL_FS, ha='center', va='center', color='#222222',
                clip_on=False, zorder=6)
    ax.text(red_pos[0], red_pos[1], RED_NAME, fontsize=7.5, fontweight='bold', color='red',
            ha='center', va='center', clip_on=False, zorder=6)


# Panel 1
ax = axes[0]
for name, vals in P1_SERIES.items():
    if name != RED_NAME:
        ax.plot(P1_YEARS, vals, color='black', lw=LW, zorder=3)
ax.plot(P1_YEARS, P1_SERIES[RED_NAME], color='red', lw=1.6, zorder=4)
draw_labels(ax, P1_LABELS, P1_RED_LABEL)

# Panel 2
ax = axes[1]
for name, pts in P2_SERIES.items():
    xs, ys = zip(*pts)
    if name == RED_NAME:
        ax.plot(xs, ys, color='red', lw=1.6, zorder=4)
    else:
        ax.plot(xs, ys, color='black', lw=LW, zorder=3)
draw_labels(ax, P2_LABELS, P2_RED_LABEL)

# Panel 3
ax = axes[2]
for name, vals in P3_SMALL.items():
    ax.plot(P3_YEARS, vals, color='black', lw=LW, zorder=3)
for name, pts in P3_MAIN.items():
    xs, ys = zip(*pts)
    if name == RED_NAME:
        ax.plot(xs, ys, color='red', lw=1.6, zorder=4)
    else:
        ax.plot(xs, ys, color='black', lw=LW, zorder=3)
draw_labels(ax, P3_LABELS, P3_RED_LABEL)

# Panel 4
ax = axes[3]
for name, pts in P4_SERIES.items():
    xs, ys = zip(*pts)
    if name == RED_NAME:
        ax.plot(xs, ys, color='red', lw=1.6, zorder=4)
    else:
        ax.plot(xs, ys, color='black', lw=LW, zorder=3)
draw_labels(ax, P4_LABELS, P4_RED_LABEL)

fig.savefig('out.png', dpi=100)
